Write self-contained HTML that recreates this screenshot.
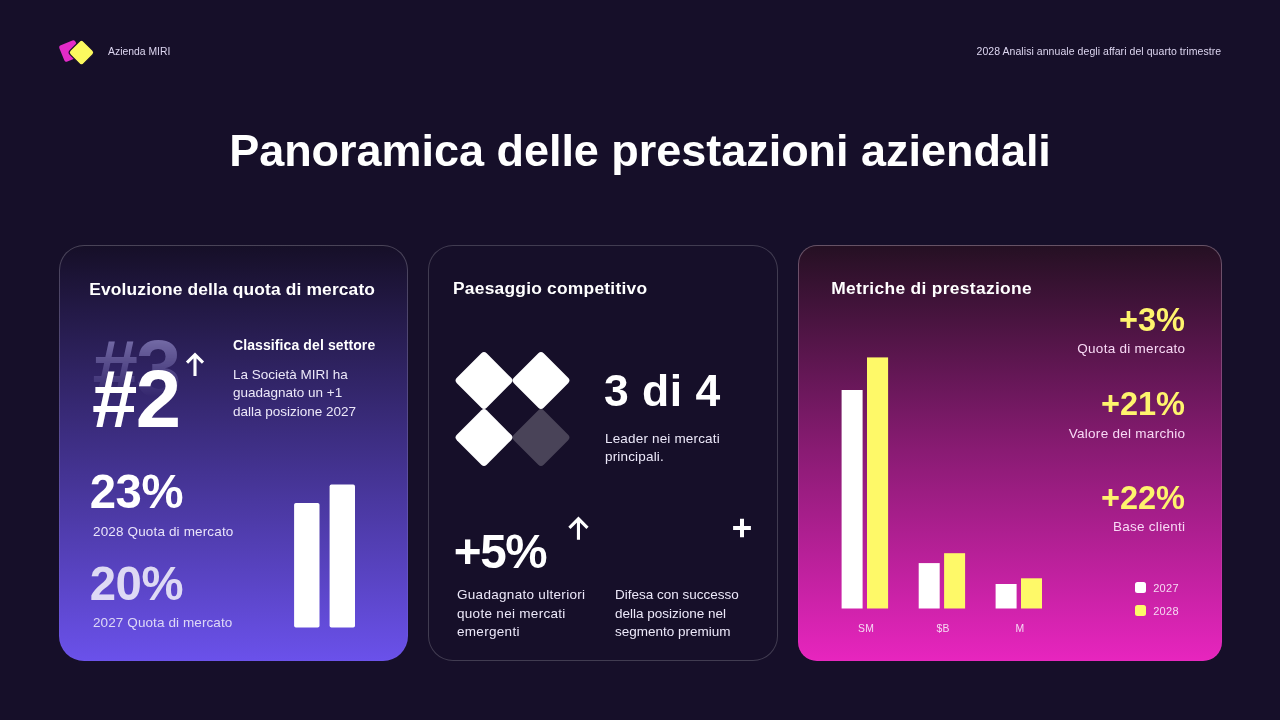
<!DOCTYPE html>
<html lang="it">
<head>
<meta charset="utf-8">
<title>Panoramica delle prestazioni aziendali</title>
<style>
html,body{margin:0;padding:0;}
body{width:1280px;height:720px;overflow:hidden;background:#160f29;font-family:"Liberation Sans",sans-serif;color:#fff;position:relative;}
.abs{position:absolute;white-space:nowrap;}
.t{position:absolute;white-space:nowrap;line-height:1;}
.card{position:absolute;background-origin:border-box;box-sizing:border-box;top:245px;height:416px;border-radius:25px;border:1px solid rgba(255,255,255,0.19);}
#c1{left:59px;width:349px;border-color:transparent;background:linear-gradient(180deg,#160f28 0%,#6a51ea 100%) padding-box,linear-gradient(180deg,rgba(255,255,255,.22) 0%,rgba(255,255,255,.12) 60%,rgba(255,255,255,.02) 100%) border-box,linear-gradient(180deg,#160f28 0%,#6a51ea 100%) border-box;}
#c2{left:428px;width:350px;background-color:#160f29;}
#c3{left:798px;width:424px;border-radius:19px;border-color:transparent;background:linear-gradient(180deg,#251023 0%,#891b73 49.3%,#e725be 100%) padding-box,linear-gradient(180deg,rgba(255,235,255,.30) 0%,rgba(255,255,255,.14) 55%,rgba(255,255,255,.02) 100%) border-box,linear-gradient(180deg,#251023 0%,#891b73 49.3%,#e725be 100%) border-box;}
.h{font-weight:700;font-size:17.4px;color:#fff;}
.b{font-size:13.5px;color:#ece8f9;line-height:18.3px;white-space:nowrap;position:absolute;}
.big{font-weight:700;font-size:46px;}
.y{color:#fef46d;font-weight:700;font-size:32.5px;}
.lab{font-size:13.5px;color:#f8d9f5;letter-spacing:0.28px;}
.bar{position:absolute;}
</style>
</head>
<body>

<!-- header -->
<svg class="abs" style="left:52px;top:32px" width="50" height="40" viewBox="0 0 50 40">
  <rect x="-8.7" y="-8.7" width="17.4" height="17.4" rx="2.4" fill="#e32bc8" transform="translate(17.9,19) rotate(-22.5)"/>
  <rect x="-9.5" y="-9.5" width="19" height="19" rx="3" fill="#fcf95f" stroke="#160f29" stroke-width="1.2" transform="translate(29.5,20.55) rotate(45)"/>
</svg>
<div class="t" id="brand" style="left:108px;top:47px;font-size:10.4px;color:#ddd6f0;">Azienda MIRI</div>
<div class="t" id="hdr" style="right:58.8px;top:46px;font-size:10.5px;letter-spacing:0.06px;color:#ddd6f0;">2028 Analisi annuale degli affari del quarto trimestre</div>

<div class="t" id="title" style="left:0;width:1280px;text-align:center;top:128.3px;font-size:45px;letter-spacing:-0.03px;font-weight:700;">Panoramica delle prestazioni aziendali</div>

<!-- card 1 -->
<div class="card" id="c1"></div>
<div class="t h" id="h1" style="left:89.3px;top:280.6px;letter-spacing:0.14px;">Evoluzione della quota di mercato</div>
<div class="t" id="n3" style="left:92.6px;top:328px;font-size:81.5px;letter-spacing:-1.8px;font-weight:700;color:#bdb6f7;-webkit-mask-image:linear-gradient(180deg,rgba(0,0,0,.52) 12%,transparent 84%);mask-image:linear-gradient(180deg,rgba(0,0,0,.52) 12%,transparent 84%);">#3</div>
<div class="t" id="n2" style="left:92px;top:358.4px;font-size:81.5px;letter-spacing:-1.6px;font-weight:700;">#2</div>
<svg class="abs" style="left:183px;top:349px" width="24" height="30" viewBox="0 0 24 30"><path d="M12 27.1V6M4 13.7L12 5.7L20 13.7" fill="none" stroke="#fff" stroke-width="3.1"/></svg>
<div class="t" id="cls" style="left:233px;top:338.1px;font-size:14px;letter-spacing:0.1px;font-weight:700;">Classifica del settore</div>
<div class="b" id="p1" style="left:233px;top:366px;">La Società MIRI ha<br>guadagnato un +1<br>dalla posizione 2027</div>
<div class="t big" id="v23" style="left:89.7px;top:468px;font-size:47.3px;letter-spacing:-0.4px;">23%</div>
<div class="t" id="l28" style="left:93px;top:525px;font-size:13.5px;letter-spacing:0.15px;color:#e9e4fa;">2028 Quota di mercato</div>
<div class="t big" id="v20" style="left:89.7px;top:559.8px;font-size:47.3px;letter-spacing:-0.4px;color:rgba(255,255,255,.8);">20%</div>
<div class="t" id="l27" style="left:93px;top:616px;font-size:13.5px;letter-spacing:0.1px;color:rgba(255,255,255,.78);">2027 Quota di mercato</div>
<svg class="abs" style="left:285px;top:478px" width="80" height="156" viewBox="285 478 80 156">
  <g fill="#fff"><rect x="294.1" y="503" width="25.4" height="124.5" rx="1.8"/><rect x="329.6" y="484.6" width="25.4" height="142.9" rx="1.8"/></g>
</svg>

<!-- card 2 -->
<div class="card" id="c2"></div>
<div class="t h" id="h2" style="left:453px;top:280px;letter-spacing:0.23px;">Paesaggio competitivo</div>
<svg class="abs" style="left:450px;top:346px" width="126" height="126" viewBox="0 0 126 126">
  <g fill="#fff">
    <rect x="-21.1" y="-21.1" width="42.2" height="42.2" rx="3.8" transform="translate(34,34.5) rotate(45)"/>
    <rect x="-21.1" y="-21.1" width="42.2" height="42.2" rx="3.8" transform="translate(91,34.5) rotate(45)"/>
    <rect x="-21.1" y="-21.1" width="42.2" height="42.2" rx="3.8" transform="translate(34,91.5) rotate(45)"/>
    <rect x="-21.1" y="-21.1" width="42.2" height="42.2" rx="3.8" transform="translate(91,91.5) rotate(45)" fill-opacity=".22"/>
  </g>
</svg>
<div class="t" id="n34" style="left:604px;top:369px;font-size:44.5px;letter-spacing:0.5px;font-weight:700;">3 di 4</div>
<div class="b" id="p2" style="left:605px;top:430px;letter-spacing:0.17px;">Leader nei mercati<br>principali.</div>
<div class="t big" id="v5" style="left:453.7px;top:528.2px;font-size:47.6px;letter-spacing:-1.3px;">+5%</div>
<svg class="abs" style="left:566px;top:514px" width="24" height="28" viewBox="0 0 24 28"><path d="M12.45 25.7V5M3.4 13.85L12.45 4.8L21.5 13.85" fill="none" stroke="#fff" stroke-width="3.1"/></svg>
<svg class="abs" style="left:730px;top:516px" width="24" height="24" viewBox="0 0 24 24"><path d="M12 2.8V21.2M3.1 12.1H20.9" fill="none" stroke="#fff" stroke-width="4"/></svg>
<div class="b" id="p3" style="left:457px;top:586.4px;letter-spacing:0.3px;">Guadagnato ulteriori<br>quote nei mercati<br>emergenti</div>
<div class="b" id="p4" style="left:615px;top:586.4px;">Difesa con successo<br>della posizione nel<br>segmento premium</div>

<!-- card 3 -->
<div class="card" id="c3"></div>
<div class="t h" id="h3" style="left:831.3px;top:280px;letter-spacing:0.32px;">Metriche di prestazione</div>
<div class="t y" id="y1" style="right:95px;top:303.5px;">+3%</div>
<div class="t lab" id="q1" style="right:94.7px;top:341.5px;">Quota di mercato</div>
<div class="t y" id="y2" style="right:95px;top:387.9px;">+21%</div>
<div class="t lab" id="q2" style="right:94.7px;top:427.2px;">Valore del marchio</div>
<div class="t y" id="y3" style="right:95px;top:482.3px;">+22%</div>
<div class="t lab" id="q3" style="right:94.7px;top:519.7px;">Base clienti</div>

<svg class="abs" style="left:830px;top:350px" width="230" height="270" viewBox="830 350 230 270">
  <g fill="#fff"><rect x="841.6" y="390" width="21" height="218.5"/><rect x="918.7" y="563.1" width="21" height="45.4"/><rect x="995.6" y="584" width="21" height="24.5"/></g>
  <g fill="#fef968"><rect x="867" y="357.4" width="21.1" height="251.1"/><rect x="944.1" y="553.2" width="21" height="55.3"/><rect x="1021" y="578.3" width="21" height="30.2"/></g>
</svg>
<div class="t" id="x1" style="letter-spacing:0.2px;left:836px;width:60px;text-align:center;top:623.6px;font-size:10.4px;color:#f6d9f3;">SM</div>
<div class="t" id="x2" style="letter-spacing:0.2px;left:913px;width:60px;text-align:center;top:623.6px;font-size:10.4px;color:#f6d9f3;">$B</div>
<div class="t" id="x3" style="letter-spacing:0.2px;left:990px;width:60px;text-align:center;top:623.6px;font-size:10.4px;color:#f6d9f3;">M</div>

<div class="bar" style="left:1135px;top:582.2px;width:11px;height:10.8px;border-radius:2.5px;background:#fff;"></div>
<div class="bar" style="left:1135px;top:605.1px;width:11px;height:10.9px;border-radius:2.5px;background:#fef968;"></div>
<div class="t" id="g1" style="left:1153.2px;top:583px;font-size:11px;letter-spacing:0.3px;color:#f6d9f3;">2027</div>
<div class="t" id="g2" style="left:1153.2px;top:605.5px;font-size:11px;letter-spacing:0.3px;color:#f6d9f3;">2028</div>

</body>
</html>
